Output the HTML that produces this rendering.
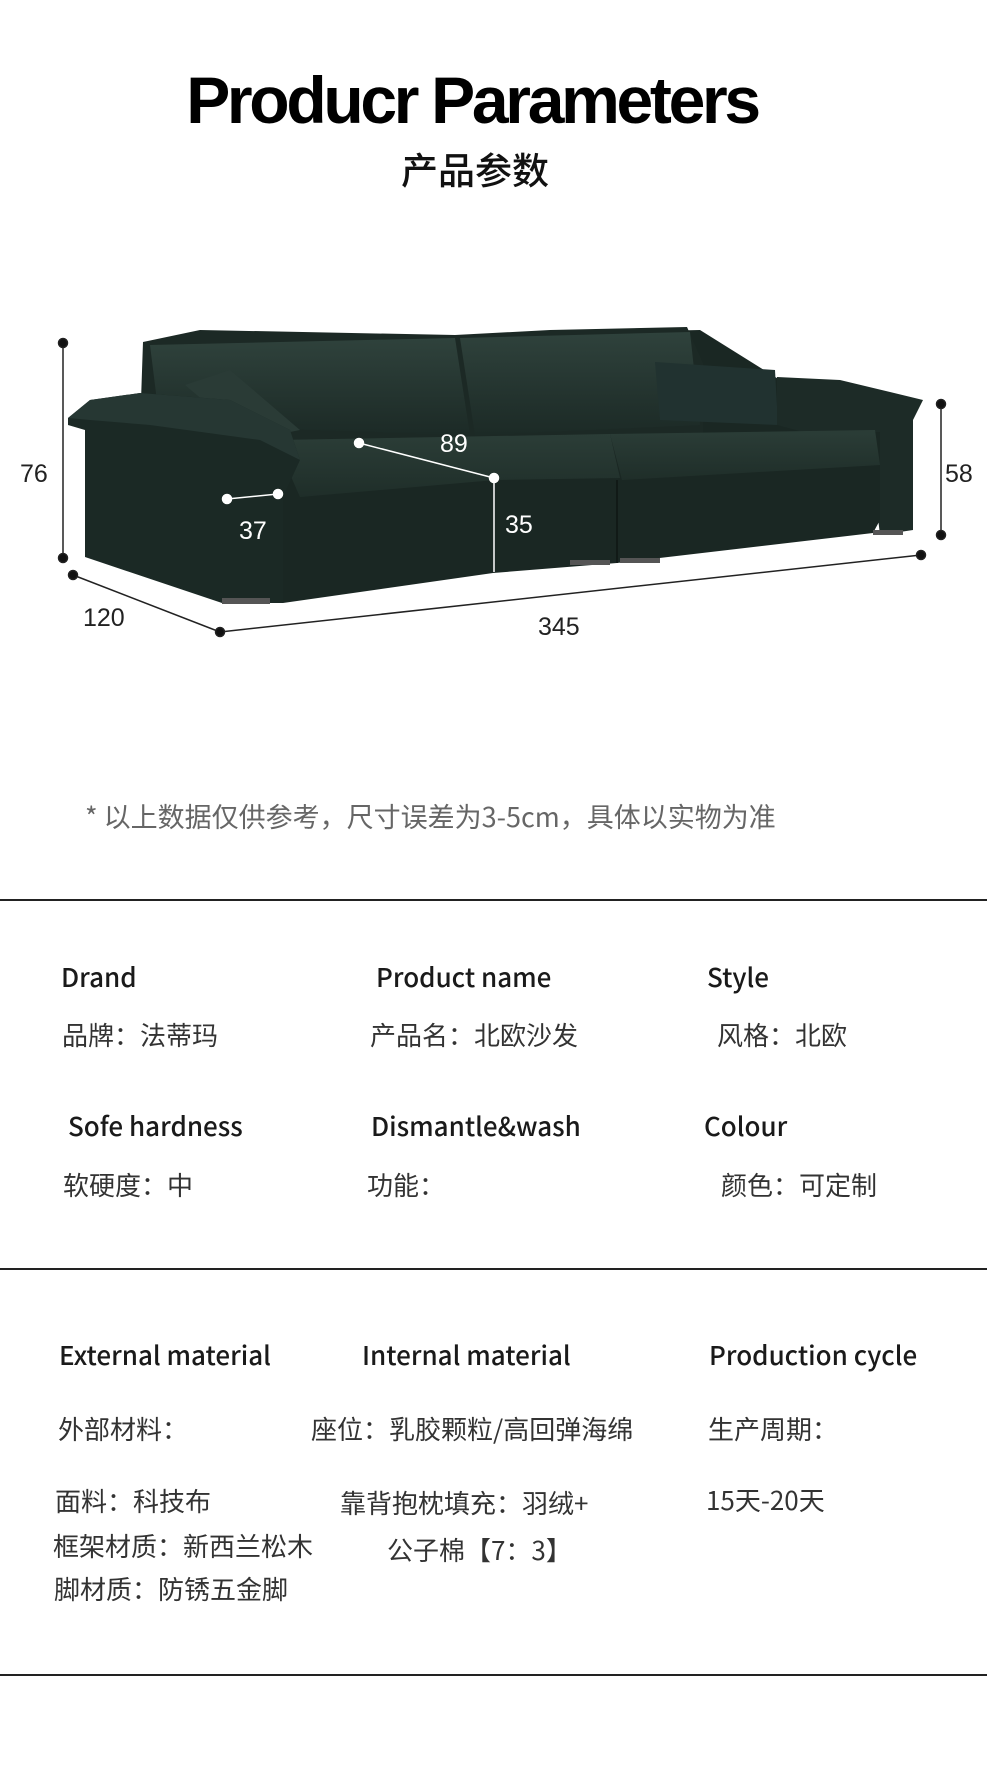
<!DOCTYPE html>
<html><head><meta charset="utf-8"><style>
*{margin:0;padding:0;box-sizing:border-box}
body{width:990px;height:1782px;background:#fff;position:relative;overflow:hidden;font-family:"Liberation Sans","Noto Sans CJK SC",sans-serif;color:#222}
.t{position:absolute;white-space:nowrap;line-height:40px;height:40px}
.h{font-family:"Noto Sans CJK SC",sans-serif;font-weight:500;font-size:26px;color:#1a1a1a}
.v{font-family:"Noto Sans CJK SC",sans-serif;font-size:26px;color:#333}
.line{position:absolute;left:0;width:987px;height:2px;background:#222}
</style></head><body>
<div class="t" style="left:0;width:990px;text-align:center;top:70px;height:60px;line-height:60px;font-size:66px;font-weight:bold;letter-spacing:-3.3px;color:#000;padding-right:46px">Producr Parameters</div>
<div class="t" style="left:0;width:950px;text-align:center;top:148px;font-size:37px;font-family:'Noto Sans CJK SC',sans-serif;font-weight:500;color:#111">产品参数</div>

<svg width="990" height="720" style="position:absolute;left:0;top:0" viewBox="0 0 990 720">
<defs>
<linearGradient id="cu" x1="0" y1="0" x2="0" y2="1"><stop offset="0" stop-color="#2f423c"/><stop offset="1" stop-color="#1c2a26"/></linearGradient>
<linearGradient id="se" x1="0" y1="0" x2="0" y2="1"><stop offset="0" stop-color="#2b3d37"/><stop offset="1" stop-color="#1f2e29"/></linearGradient>
</defs>
<polygon points="143,342 700,330 780,380 880,420 880,470 270,480 140,430" fill="#1a2723"/>
<polygon points="143,342 200,330 455,335 550,330 687,327 703,363 703,440 143,440" fill="#1c2925"/>
<polygon points="150,345 455,338 470,435 160,425" fill="url(#cu)"/>
<polygon points="460,338 690,332 700,425 475,435" fill="url(#cu)"/>
<polygon points="655,362 775,370 778,425 660,420" fill="#213230"/>
<polygon points="185,385 230,370 300,430 250,440" fill="#2a3b36"/>
<polygon points="777,377 840,380 923,400 913,420 913,530 880,535 870,450 777,425" fill="#1d2b27"/>
<polygon points="270,440 500,436 880,432 880,520 873,533 617,563 493,573 283,603 283,470" fill="#1a2723"/>
<polygon points="275,440 610,434 620,478 495,480 300,497" fill="url(#se)"/>
<polygon points="610,434 875,430 880,465 622,480" fill="url(#se)"/>
<line x1="617" y1="480" x2="617" y2="563" stroke="#111a17" stroke-width="2"/>
<polygon points="68,418 90,400 140,393 230,400 290,430 300,460 283,497 283,603 222,603 85,557 85,430 68,425" fill="#1b2925"/>
<polygon points="68,418 90,400 140,393 230,400 290,430 300,460 260,440 150,425 90,420" fill="#263733"/>
<rect x="222" y="598" width="48" height="6" fill="#555"/>
<rect x="570" y="560" width="40" height="5" fill="#555"/>
<rect x="620" y="558" width="40" height="5" fill="#555"/>
<rect x="873" y="530" width="30" height="5" fill="#555"/>
<g stroke="#222" stroke-width="1.5" fill="#111">
<line x1="63" y1="343" x2="63" y2="558"/><circle cx="63" cy="343" r="4.5"/><circle cx="63" cy="558" r="4.5"/>
<line x1="941" y1="404" x2="941" y2="535"/><circle cx="941" cy="404" r="4.5"/><circle cx="941" cy="535" r="4.5"/>
<line x1="73" y1="575" x2="220" y2="632"/><line x1="220" y1="632" x2="921" y2="555"/>
<circle cx="73" cy="575" r="4.5"/><circle cx="220" cy="632" r="4.5"/><circle cx="921" cy="555" r="4.5"/>
</g>
<g stroke="#fff" stroke-width="1.5" fill="#fff">
<line x1="359" y1="443" x2="494" y2="478"/><line x1="494" y1="478" x2="494" y2="572"/>
<line x1="227" y1="499" x2="278" y2="494"/>
<circle cx="359" cy="443" r="4.5"/><circle cx="494" cy="478" r="4.5"/><circle cx="227" cy="499" r="4.5"/><circle cx="278" cy="494" r="4.5"/>
</g>
<g font-family="Liberation Sans, sans-serif" font-size="25">
<text x="20" y="482" fill="#222">76</text>
<text x="945" y="482" fill="#222">58</text>
<text x="83" y="626" fill="#222">120</text>
<text x="538" y="635" fill="#222">345</text>
<text x="440" y="452" fill="#fff">89</text>
<text x="239" y="539" fill="#fff">37</text>
<text x="505" y="533" fill="#fff">35</text>
</g>
</svg>

<div class="t" style="left:85px;top:796px;font-size:27px;color:#666;font-family:'Noto Sans CJK SC',sans-serif">* 以上数据仅供参考，尺寸误差为3-5cm，具体以实物为准</div>

<div class="line" style="top:899px"></div>
<div class="t h" style="left:61px;top:957px">Drand</div>
<div class="t h" style="left:376px;top:957px">Product name</div>
<div class="t h" style="left:707px;top:957px">Style</div>
<div class="t v" style="left:62px;top:1015px">品牌：法蒂玛</div>
<div class="t v" style="left:370px;top:1015px">产品名：北欧沙发</div>
<div class="t v" style="left:717px;top:1015px">风格：北欧</div>
<div class="t h" style="left:68px;top:1106px">Sofe hardness</div>
<div class="t h" style="left:371px;top:1106px">Dismantle&amp;wash</div>
<div class="t h" style="left:704px;top:1106px">Colour</div>
<div class="t v" style="left:63px;top:1165px">软硬度：中</div>
<div class="t v" style="left:367px;top:1165px">功能：</div>
<div class="t v" style="left:721px;top:1165px">颜色：可定制</div>

<div class="line" style="top:1268px"></div>
<div class="t h" style="left:59px;top:1335px">External material</div>
<div class="t h" style="left:362px;top:1335px">Internal material</div>
<div class="t h" style="left:709px;top:1335px">Production cycle</div>
<div class="t v" style="left:58px;top:1409px">外部材料：</div>
<div class="t v" style="left:311px;top:1409px">座位：乳胶颗粒/高回弹海绵</div>
<div class="t v" style="left:708px;top:1409px">生产周期：</div>
<div class="t v" style="left:55px;top:1481px">面料：科技布</div>
<div class="t v" style="left:340px;top:1483px">靠背抱枕填充：羽绒+</div>
<div class="t v" style="left:706px;top:1480px">15天-20天</div>
<div class="t v" style="left:53px;top:1526px">框架材质：新西兰松木</div>
<div class="t v" style="left:387px;top:1530px">公子棉【7：3】</div>
<div class="t v" style="left:54px;top:1569px">脚材质：防锈五金脚</div>
<div class="line" style="top:1674px"></div>
</body></html>
